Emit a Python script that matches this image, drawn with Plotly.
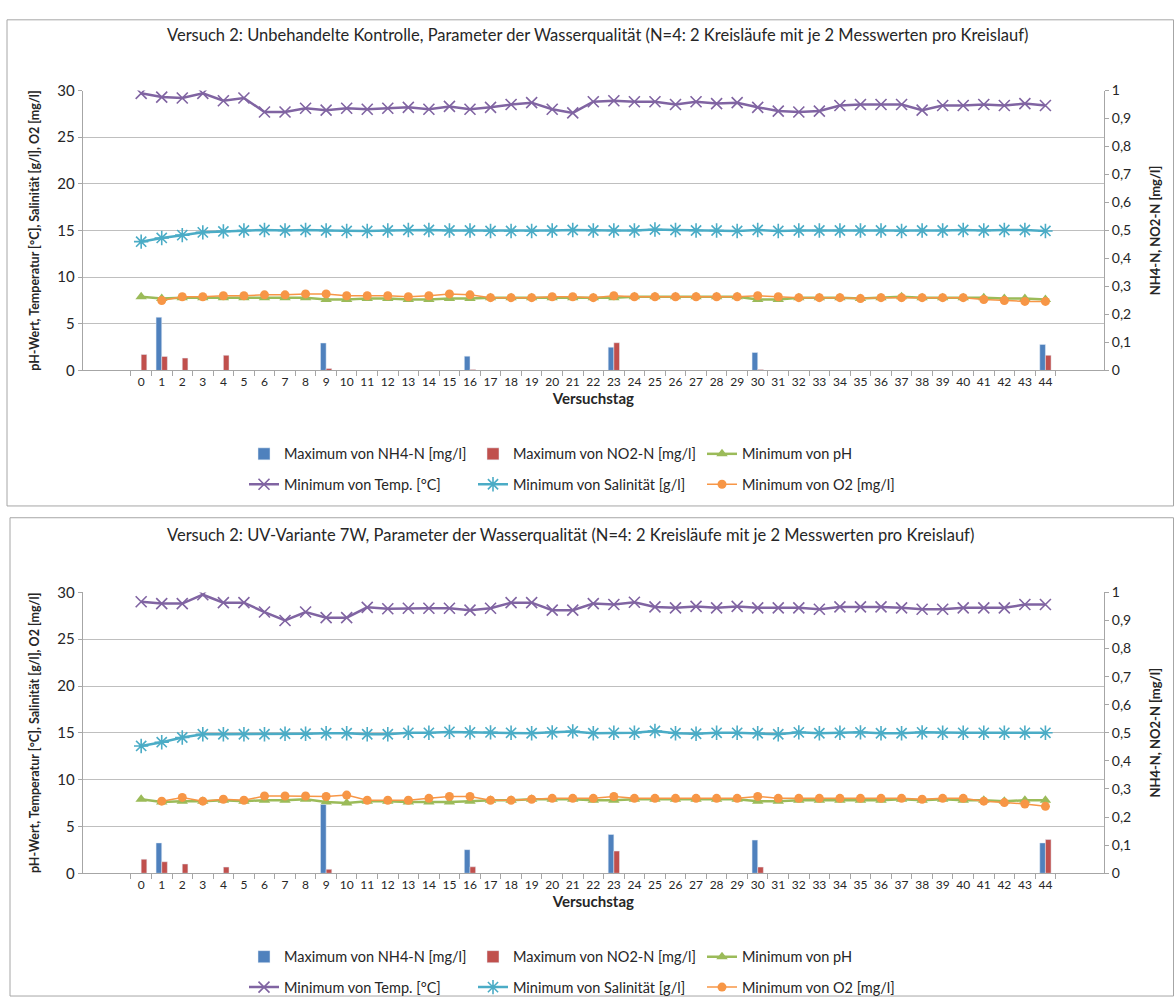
import plotly.graph_objects as go

W, H = 1174, 1005

days = [str(d) for d in range(45)]

# ---------- Chart 1: Unbehandelte Kontrolle ----------
temp_top = [29.7, 29.3, 29.2, 29.7, 28.9, 29.2, 27.7, 27.7, 28.1, 27.9,
            28.1, 28.0, 28.1, 28.2, 28.0, 28.3, 28.0, 28.2, 28.5, 28.7,
            28.0, 27.6, 28.8, 28.9, 28.8, 28.8, 28.5, 28.8, 28.6, 28.7,
            28.2, 27.8, 27.7, 27.8, 28.4, 28.5, 28.5, 28.5, 27.9, 28.4,
            28.4, 28.5, 28.4, 28.6, 28.4]
sal_top = [13.8, 14.2, 14.5, 14.8, 14.9, 15.0, 15.05, 15.0, 15.05, 15.0,
           14.95, 14.95, 15.0, 15.05, 15.05, 15.0, 15.0, 14.95, 14.95, 14.95,
           15.0, 15.05, 15.0, 15.0, 15.0, 15.1, 15.05, 15.0, 15.0, 14.95,
           15.05, 14.95, 15.0, 15.0, 15.0, 15.0, 15.0, 14.95, 15.0, 15.0,
           15.05, 15.0, 15.05, 15.05, 14.95]
ph_top = [7.9, 7.7, 7.8, 7.8, 7.8, 7.8, 7.8, 7.8, 7.8, 7.6,
          7.6, 7.7, 7.7, 7.6, 7.6, 7.7, 7.7, 7.8, 7.8, 7.8,
          7.8, 7.8, 7.8, 7.8, 7.9, 7.9, 7.9, 7.9, 7.9, 7.9,
          7.6, 7.6, 7.8, 7.8, 7.8, 7.7, 7.8, 7.9, 7.8, 7.8,
          7.8, 7.8, 7.7, 7.7, 7.6]
o2_top = [None, 7.5, 7.9, 7.9, 8.0, 8.0, 8.1, 8.1, 8.2, 8.2,
          8.0, 8.0, 8.0, 7.9, 8.0, 8.2, 8.1, 7.8, 7.8, 7.8,
          7.9, 7.9, 7.8, 8.0, 7.9, 7.9, 7.9, 7.9, 7.9, 7.9,
          8.0, 7.9, 7.8, 7.8, 7.8, 7.7, 7.8, 7.8, 7.8, 7.8,
          7.8, 7.6, 7.5, 7.4, 7.4]
nh4_top_days = ["1", "9", "16", "23", "30", "44"]
nh4_top = [0.19, 0.098, 0.051, 0.083, 0.064, 0.093]
no2_top_days = ["0", "1", "2", "4", "9", "16", "23", "30", "44"]
no2_top = [0.057, 0.05, 0.044, 0.054, 0.007, 0.003, 0.099, 0.003, 0.054]

# ---------- Chart 2: UV-Variante 7W ----------
temp_bot = [29.0, 28.8, 28.8, 29.75, 28.9, 28.9, 27.9, 27.0, 27.9, 27.3,
            27.3, 28.4, 28.25, 28.3, 28.3, 28.3, 28.1, 28.3, 28.9, 28.9,
            28.1, 28.1, 28.8, 28.7, 28.95, 28.45, 28.35, 28.5, 28.35, 28.5,
            28.35, 28.35, 28.35, 28.2, 28.45, 28.45, 28.45, 28.35, 28.2, 28.2,
            28.35, 28.35, 28.35, 28.7, 28.7]
sal_bot = [13.6, 14.0, 14.5, 14.85, 14.85, 14.85, 14.85, 14.9, 14.9, 14.95,
           14.95, 14.85, 14.85, 15.0, 15.0, 15.1, 15.05, 15.05, 15.0, 14.95,
           15.05, 15.15, 14.95, 15.0, 15.0, 15.2, 14.95, 14.9, 15.0, 15.0,
           14.95, 14.85, 15.05, 14.95, 15.0, 15.05, 14.95, 14.95, 15.05, 15.0,
           15.0, 15.0, 15.0, 15.0, 15.0]
ph_bot = [7.9, 7.6, 7.7, 7.7, 7.8, 7.7, 7.8, 7.8, 7.9, 7.6,
          7.5, 7.7, 7.7, 7.6, 7.6, 7.6, 7.7, 7.8, 7.8, 7.9,
          7.9, 7.9, 7.8, 7.8, 7.9, 7.9, 7.9, 7.9, 7.9, 7.9,
          7.7, 7.7, 7.8, 7.8, 7.8, 7.8, 7.8, 7.9, 7.8, 7.9,
          7.8, 7.8, 7.7, 7.8, 7.8]
o2_bot = [None, 7.7, 8.1, 7.7, 7.9, 7.8, 8.25, 8.25, 8.25, 8.2,
          8.35, 7.8, 7.8, 7.8, 8.0, 8.2, 8.2, 7.8, 7.8, 7.9,
          8.0, 8.0, 8.0, 8.2, 8.0, 8.0, 8.0, 8.0, 8.0, 8.0,
          8.2, 8.0, 8.0, 8.0, 8.0, 8.0, 8.0, 8.0, 7.9, 8.0,
          8.0, 7.7, 7.55, 7.4, 7.15]
nh4_bot_days = ["1", "9", "16", "23", "30", "44"]
nh4_bot = [0.108, 0.245, 0.084, 0.138, 0.118, 0.108]
no2_bot_days = ["0", "1", "2", "4", "9", "16", "23", "30", "44"]
no2_bot = [0.05, 0.041, 0.033, 0.022, 0.014, 0.023, 0.079, 0.022, 0.12]

titles = [
    "Versuch 2: Unbehandelte Kontrolle, Parameter der Wasserqualität (N=4: 2 Kreisläufe mit je 2 Messwerten pro Kreislauf)",
    "Versuch 2: UV-Variante 7W, Parameter der Wasserqualität (N=4: 2 Kreisläufe mit je 2 Messwerten pro Kreislauf)",
]
names = ["Maximum von NH4-N [mg/l]", "Maximum von NO2-N [mg/l]", "Minimum von pH",
         "Minimum von Temp. [°C]", "Minimum von Salinität [g/l]", "Minimum von O2 [mg/l]"]

C_BLUE, C_RED, C_GREEN = "#4F81BD", "#C0504D", "#9BBB59"
C_PURPLE, C_AQUA, C_ORANGE = "#8064A2", "#4BACC6", "#F79646"
FONT = "Lato"
TXT = "#262626"

def px(x):
    return x / W

def py(y):
    return 1 - y / H

fig = go.Figure()

charts = [
    dict(temp=temp_top, sal=sal_top, ph=ph_top, o2=o2_top,
         nh4d=nh4_top_days, nh4=nh4_top, no2d=no2_top_days, no2=no2_top,
         xa="x", ya="y", ya2="y2", leg=("legend", "legend2")),
    dict(temp=temp_bot, sal=sal_bot, ph=ph_bot, o2=o2_bot,
         nh4d=nh4_bot_days, nh4=nh4_bot, no2d=no2_bot_days, no2=no2_bot,
         xa="x2", ya="y3", ya2="y4", leg=("legend3", "legend4")),
]

for c in charts:
    fig.add_trace(go.Bar(x=c["nh4d"], y=c["nh4"], name=names[0], marker_color=C_BLUE,
                         xaxis=c["xa"], yaxis=c["ya2"], legend=c["leg"][0], offsetgroup="a"))
    fig.add_trace(go.Bar(x=c["no2d"], y=c["no2"], name=names[1], marker_color=C_RED,
                         xaxis=c["xa"], yaxis=c["ya2"], legend=c["leg"][0], offsetgroup="b"))
    fig.add_trace(go.Scatter(x=days, y=c["ph"], name=names[2], mode="lines+markers",
                             line=dict(color=C_GREEN, width=2.5),
                             marker=dict(symbol="triangle-up", size=10, color=C_GREEN),
                             xaxis=c["xa"], yaxis=c["ya"], legend=c["leg"][0]))
    fig.add_trace(go.Scatter(x=days, y=c["temp"], name=names[3], mode="lines+markers",
                             line=dict(color=C_PURPLE, width=2.5),
                             marker=dict(symbol="x-thin-open", size=11, color=C_PURPLE,
                                         line=dict(width=1.6, color=C_PURPLE)),
                             xaxis=c["xa"], yaxis=c["ya"], legend=c["leg"][1]))
    fig.add_trace(go.Scatter(x=days, y=c["sal"], name=names[4], mode="lines+markers",
                             line=dict(color=C_AQUA, width=2.5),
                             marker=dict(symbol="asterisk-open", size=12, color=C_AQUA,
                                         line=dict(width=1.6, color=C_AQUA)),
                             xaxis=c["xa"], yaxis=c["ya"], legend=c["leg"][1]))
    fig.add_trace(go.Scatter(x=days, y=c["o2"], name=names[5], mode="lines+markers",
                             line=dict(color=C_ORANGE, width=1.5),
                             marker=dict(symbol="circle", size=9, color=C_ORANGE),
                             xaxis=c["xa"], yaxis=c["ya"], legend=c["leg"][1]))

xdom = [px(82.6), px(1104)]

def xaxis(anchor):
    return dict(domain=xdom, anchor=anchor, type="category",
                categoryorder="array", categoryarray=days,
                tickmode="array", tickvals=days, ticktext=days, tickangle=0,
                tickson="boundaries", ticks="outside", ticklen=5, tickcolor="#A6A6A6",
                showline=True, linecolor="#A6A6A6", linewidth=1, showgrid=False,
                tickfont=dict(family=FONT, size=12, color=TXT),
                title=dict(text="<b>Versuchstag</b>", font=dict(family=FONT, size=15, color=TXT),
                           standoff=4),
                fixedrange=True)

def yleft(dom, anchor):
    return dict(domain=dom, anchor=anchor, range=[0, 30], dtick=5,
                showgrid=True, gridcolor="#BFBFBF", gridwidth=1, zeroline=False,
                showline=True, linecolor="#A6A6A6", ticks="outside", ticklen=4,
                tickcolor="#A6A6A6", tickfont=dict(family=FONT, size=15, color=TXT),
                title=dict(text="<b>pH-Wert, Temperatur [°C], Salinität [g/l], O2 [mg/l]</b>",
                           font=dict(family=FONT, size=12.5, color=TXT), standoff=14))

def yright(dom, anchor, overlay):
    return dict(domain=dom, anchor=anchor, overlaying=overlay, side="right",
                range=[0, 1], dtick=0.1, showgrid=False, zeroline=False,
                showline=True, linecolor="#A6A6A6", ticks="outside", ticklen=4,
                tickcolor="#A6A6A6", tickfont=dict(family=FONT, size=14, color=TXT),
                title=dict(text="<b>NH4-N, NO2-N [mg/l]</b>",
                           font=dict(family=FONT, size=13, color=TXT), standoff=20))

dom_top = [py(367), py(82)]
dom_bot = [py(879), py(593)]

legfont = dict(family=FONT, size=14.5, color=TXT)

def leg(y):
    return dict(orientation="h", x=px(244), xanchor="left", y=py(y), yanchor="middle",
                font=legfont, entrywidth=184, entrywidthmode="pixels",
                bgcolor="rgba(0,0,0,0)", itemwidth=30, tracegroupgap=0)

fig.update_layout(
    width=W, height=H, margin=dict(l=0, r=0, t=0, b=0, pad=0),
    paper_bgcolor="white", plot_bgcolor="white",
    separators=", ",
    barmode="group", bargap=0.45, bargroupgap=0,
    xaxis=xaxis("y"), xaxis2=xaxis("y3"),
    yaxis=yleft(dom_top, "x"), yaxis2=yright(dom_top, "x", "y"),
    yaxis3=yleft(dom_bot, "x2"), yaxis4=yright(dom_bot, "x2", "y3"),
    legend=leg(452), legend2=leg(483), legend3=leg(964), legend4=leg(995),
    font=dict(family=FONT, color=TXT),
    shapes=[
        dict(type="rect", xref="paper", yref="paper", x0=px(7), x1=px(1173.5),
             y0=py(505), y1=py(10), line=dict(color="#A6A6A6", width=1)),
        dict(type="rect", xref="paper", yref="paper", x0=px(10), x1=px(1173.5),
             y0=py(1004), y1=py(517), line=dict(color="#A6A6A6", width=1)),
    ],
    annotations=[
        dict(text=titles[0], xref="paper", yref="paper", x=px(597), y=py(25),
             xanchor="center", yanchor="middle", showarrow=False,
             font=dict(family=FONT, size=16.5, color=TXT)),
        dict(text=titles[1], xref="paper", yref="paper", x=px(570), y=py(535),
             xanchor="center", yanchor="middle", showarrow=False,
             font=dict(family=FONT, size=16.5, color=TXT)),
    ],
)

fig.write_html("out.html")
